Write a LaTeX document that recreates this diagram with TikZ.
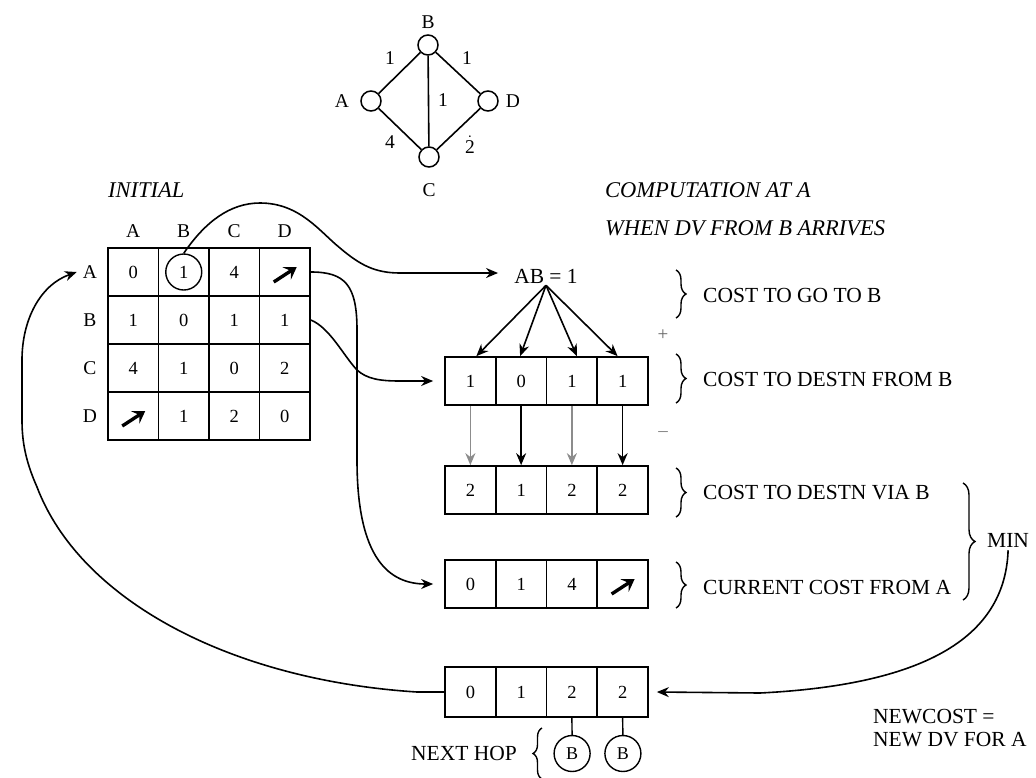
\documentclass[tikz,border=0pt]{standalone}
\usepackage{fontspec}
\setmainfont{Liberation Serif}
\usetikzlibrary{arrows.meta,decorations.pathreplacing,calc}
\begin{document}
\begin{tikzpicture}[x=1pt,y=-1pt,
  lbl/.style={font=\fontsize{21.5}{24}\selectfont, inner sep=0pt},
  ital/.style={font=\fontsize{22.5}{26}\selectfont\itshape, inner sep=0pt, anchor=west},
  let/.style={font=\fontsize{19.5}{22}\selectfont, inner sep=0pt},
  cell/.style={draw, line width=1.7pt, minimum width=50.6pt, minimum height=48pt, inner sep=0pt, font=\fontsize{18.5}{20}\selectfont},
  bcell/.style={cell, minimum width=50.75pt},
  gnode/.style={circle, draw, line width=1.5pt, minimum size=20pt, inner sep=0pt},
  hop/.style={circle, draw, line width=1.4pt, minimum size=36pt, inner sep=0pt, font=\fontsize{18}{20}\selectfont},
  edge/.style={line width=1.6pt},
  conn/.style={line width=1.6pt, -{Stealth[length=12pt,width=10pt]}},
  bigarr/.style={line width=3.4pt, -{Stealth[length=12pt,width=15pt,inset=5pt]}},
  brc/.style={decorate, decoration={brace, amplitude=10pt}, line width=1.4pt},
]
\useasboundingbox (0,0) rectangle (1036,777);
\fill[white] (0,0) rectangle (1036,777);

% ---- graph ----
\node[gnode] (gB) at (428,45) {};
\node[gnode] (gA) at (371,101) {};
\node[gnode] (gD) at (488,101) {};
\node[gnode] (gC) at (429,157) {};
\draw[edge] (gA) -- (gB);
\draw[edge] (gB) -- (gD);
\draw[edge] (gA) -- (gC);
\draw[edge] (gC) -- (gD);
\draw[edge] (gB) -- (gC);
\node[let] (tB) at (428,22) {B};
\node[let] (tA) at (342,101) {A};
\node[let] (tD) at (513,101) {D};
\node[let] (tC) at (429,190) {C};
\node[let] (wAB) at (390,58) {1};
\node[let] (wBD) at (467,58) {1};
\node[let] (wBC) at (443,100) {1};
\node[let] (wAC) at (390,142) {4};
\node[let] (wCD) at (470,145) {$\dot{\mbox{2}}$};

% ---- initial table ----
\node[ital] (init) at (108,190) {INITIAL};
\foreach \c/\t in {1/A,2/B,3/C,4/D}
  \node[let] (h\c) at ({108+50.5*(\c-0.5)},231) {\t};
\foreach \r/\t in {1/A,2/B,3/C,4/D}
  \node[let] (r\r) at (90,{248+48*(\r-0.5)}) {\t};
\foreach \c/\v in {1/0,2/1,3/4,4/{}}
  \node[cell] (m1\c) at ({108+50.5*(\c-0.5)},272) {\v};
\foreach \c/\v in {1/1,2/0,3/1,4/1}
  \node[cell] (m2\c) at ({108+50.5*(\c-0.5)},320) {\v};
\foreach \c/\v in {1/4,2/1,3/0,4/2}
  \node[cell] (m3\c) at ({108+50.5*(\c-0.5)},368) {\v};
\foreach \c/\v in {1/{},2/1,3/2,4/0}
  \node[cell] (m4\c) at ({108+50.5*(\c-0.5)},416) {\v};
\node[circle, draw, line width=1.4pt, minimum size=36pt, inner sep=0pt] (c12) at (m12.center) {};
\draw[bigarr] ([shift={(-11,10)}]m14.center) -- ([shift={(12,-5)}]m14.center);
\draw[bigarr] ([shift={(-11,10)}]m41.center) -- ([shift={(12,-5)}]m41.center);

% ---- computation ----
\node[ital] (comp1) at (605,190) {COMPUTATION AT A};
\node[ital] (comp2) at (605,228) {WHEN DV FROM B ARRIVES};
\node[lbl] (ab) at (546,276) {AB = 1};

\foreach \c/\v in {1/1,2/0,3/1,4/1}
  \node[bcell] (p\c) at ({445+50.75*(\c-0.5)},381) {\v};
\foreach \c/\v in {1/2,2/1,3/2,4/2}
  \node[bcell] (q\c) at ({445+50.75*(\c-0.5)},490) {\v};
\foreach \c/\v in {1/0,2/1,3/4,4/{}}
  \node[bcell] (s\c) at ({445+50.75*(\c-0.5)},584) {\v};
\foreach \c/\v in {1/0,2/1,3/2,4/2}
  \node[bcell, minimum height=50pt] (n\c) at ({445+50.75*(\c-0.5)},692) {\v};
\draw[bigarr] ([shift={(-11,10)}]s4.center) -- ([shift={(12,-5)}]s4.center);

% arrows from AB
\draw[conn] ([yshift=-2pt]ab.south) -- ([xshift=6pt]p1.north);
\draw[conn] ([yshift=-2pt]ab.south) -- ([xshift=-1pt]p2.north);
\draw[conn] ([yshift=-2pt]ab.south) -- ([xshift=5pt]p3.north);
\draw[conn] ([yshift=-2pt]ab.south) -- ([xshift=-5pt]p4.north);

% down arrows
\draw[conn, draw=black!45] (p1.south) -- (q1.north);
\draw[conn] (p2.south) -- (q2.north);
\draw[conn, draw=black!45] (p3.south) -- (q3.north);
\draw[conn] (p4.south) -- (q4.north);

\node[font=\fontsize{19}{20}\selectfont, text=black!60] (plus) at (663,335) {+};
\node[font=\fontsize{19}{20}\selectfont, text=black!50] (minus) at (663,434) {--};

% braces and labels
\draw[brc] (676,270) -- (676,318);
\node[lbl, anchor=west] (l1) at (703,295) {COST TO GO TO B};
\draw[brc] (676,354) -- (676,403);
\node[lbl, anchor=west] (l2) at (703,379) {COST TO DESTN FROM B};
\draw[brc] (676,468) -- (676,517);
\node[lbl, anchor=west] (l3) at (703,493) {COST TO DESTN VIA B};
\draw[brc] (676,562) -- (676,608);
\node[lbl, anchor=west] (l4) at (703,587) {CURRENT COST FROM A};
\draw[brc, decoration={brace, amplitude=12pt}] (963,483) -- (963,600);
\node[lbl, anchor=west] (min) at (987,540) {MIN};
\node[lbl, anchor=west, align=left, font=\fontsize{21.5}{23}\selectfont] (newc) at (873,728) {NEWCOST =\\NEW DV FOR A};

% next hop
\node[lbl] (nh) at (464,753) {NEXT HOP};
\draw[brc, decoration={brace, amplitude=9pt}] (542,779) -- (542,728);
\node[hop] (hb1) at (572.1,753.5) {B};
\node[hop] (hb2) at (622.9,753.5) {B};
\draw[line width=1.4pt] (n3.south) -- (hb1.north);
\draw[line width=1.4pt] (n4.south) -- (hb2.north);

% ---- curved connectors ----
\draw[conn] (c12.north) .. controls (205,222) and (230,203) .. (260,203)
  .. controls (300,203) and (320,232) .. (340,248)
  .. controls (360,265) and (375,273) .. (400,273) -- ([xshift=-16pt]ab.west |- 0,273);
\draw[conn] (m14.east) .. controls (345,272) and (357,285) .. (357,330) -- (357,460)
  .. controls (357,560) and (390,584) .. ([xshift=-11pt]s1.west);
\draw[conn] (m24.east) .. controls (330,328) and (343,355) .. (357,370)
  .. controls (367,379) and (380,381) .. (400,381) -- ([xshift=-11pt]p1.west);
\draw[conn] (n1.west) -- (417,692) .. controls (230,680) and (80,600) .. (37,487)
  .. controls (25,460) and (22,440) .. (22,420) -- (22,360)
  .. controls (22,320) and (40,285) .. ([xshift=-6pt]r1.west);
\draw[conn] ([yshift=-3pt]min.south) .. controls (1005,640) and (920,685) .. (760,693) -- ([xshift=8pt]n4.east);
\end{tikzpicture}
\end{document}
